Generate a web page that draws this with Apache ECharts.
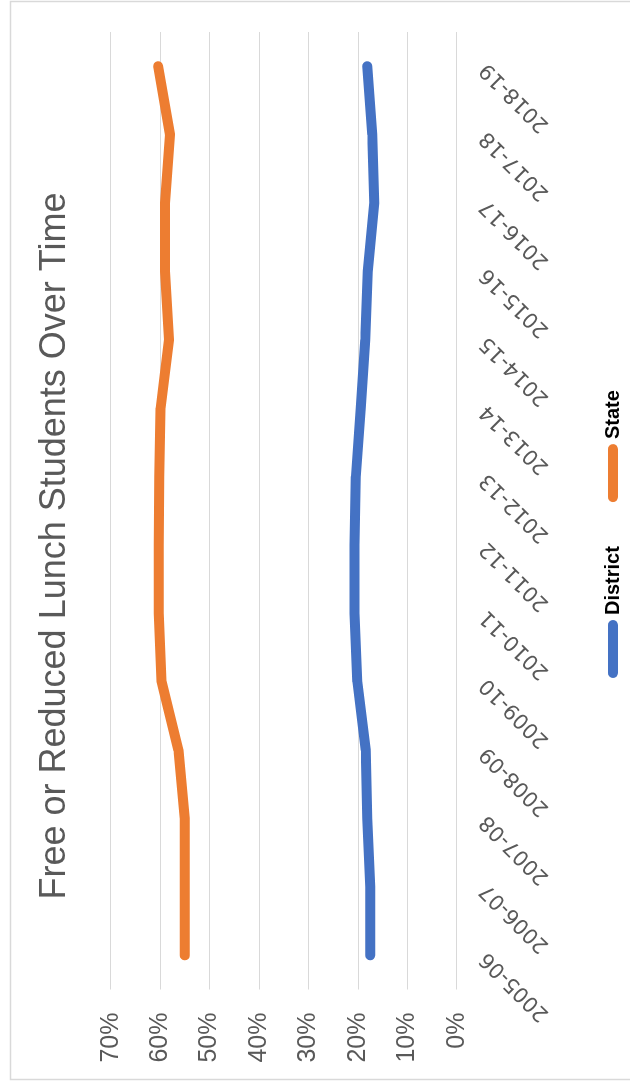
<!DOCTYPE html>
<html>
<head>
<meta charset="utf-8">
<title>Free or Reduced Lunch Students Over Time</title>
<script src="https://cdn.jsdelivr.net/npm/echarts@6/dist/echarts.min.js"></script>
<style>
  html, body { margin: 0; padding: 0; background: #ffffff; overflow: hidden; }
  body { width: 630px; height: 1083px; position: relative; }
  /* The chart is laid out landscape and turned a quarter turn counter-clockwise. */
  #chart {
    position: absolute; left: 0; top: 0;
    width: 1083px; height: 630px;
    transform-origin: 0 0;
    transform: translate(0, 1083px) rotate(-90deg);
  }
</style>
</head>
<body>
<div id="chart"></div>
<script>
// School years shown along the category axis
const years = ['2005-06', '2006-07', '2007-08', '2008-09', '2009-10', '2010-11', '2011-12',
               '2012-13', '2013-14', '2014-15', '2015-16', '2016-17', '2017-18', '2018-19'];

// Share of students eligible for free or reduced lunch (%)
const district = [17.5, 17.5, 18.1, 18.4, 20.1, 20.7, 20.7, 20.4, 19.4, 18.5, 18.0, 16.7, 17.1, 18.1];
const state    = [55.0, 55.0, 55.0, 56.3, 59.7, 60.3, 60.3, 60.2, 59.9, 58.2, 59.0, 59.0, 58.0, 60.4];

// Value axis range and step
const valueMin = 0;
const valueMax = 70;
const valueStep = 10;

const chart = echarts.init(document.getElementById('chart'), null, { renderer: 'canvas', width: 1083, height: 630 });

const grey = '#595959';
const gridGrey = '#d9d9d9';

chart.setOption({
  animation: false,
  backgroundColor: '#ffffff',
  graphic: [
    {
      type: 'rect',
      silent: true,
      shape: { x: 3.5, y: 10.5, width: 1078, height: 700 },
      style: { fill: 'none', stroke: gridGrey, lineWidth: 1.5 }
    },
    {
      type: 'text',
      x: 537, y: 55,
      style: {
        text: 'Free or Reduced Lunch Students Over Time',
        font: '36px "Liberation Sans", Arial, sans-serif',
        fill: grey,
        textAlign: 'center',
        textVerticalAlign: 'middle'
      }
    }
  ],
  legend: {
    data: ['District', 'State'],
    left: 400,
    top: 598,
    itemWidth: 58,
    itemHeight: 10,
    itemGap: 44,
    icon: 'path://M5,0 L53,0 A5,5 0 0 1 53,10 L5,10 A5,5 0 0 1 5,0 Z',
    textStyle: {
      color: '#000000',
      fontSize: 20,
      fontWeight: 'bold',
      fontFamily: '"Liberation Sans", Arial, sans-serif'
    }
  },
  grid: { left: 93.5, right: 32, top: 110.7, bottom: 173.3, containLabel: false },
  xAxis: {
    type: 'category',
    data: years,
    boundaryGap: true,
    axisLine: { show: false },
    axisTick: { show: false },
    axisLabel: {
      rotate: 45,
      margin: 27,
      interval: 0,
      color: grey,
      fontSize: 21,
      fontFamily: '"DejaVu Sans", sans-serif'
    },
    splitLine: { show: false }
  },
  yAxis: {
    type: 'value',
    min: valueMin,
    max: valueMax,
    interval: valueStep,
    axisLine: { show: false },
    axisTick: { show: false },
    axisLabel: {
      formatter: '{value}%',
      margin: 23,
      color: grey,
      fontSize: 25,
      fontFamily: '"Liberation Sans", Arial, sans-serif'
    },
    splitLine: { show: true, lineStyle: { color: gridGrey, width: 1.2 } }
  },
  series: [
    {
      name: 'District',
      type: 'line',
      data: district,
      symbol: 'none',
      color: '#4472c4',
      lineStyle: { width: 10, cap: 'round', join: 'round', color: '#4472c4' }
    },
    {
      name: 'State',
      type: 'line',
      data: state,
      symbol: 'none',
      color: '#ed7d31',
      lineStyle: { width: 10, cap: 'round', join: 'round', color: '#ed7d31' }
    }
  ]
});
</script>
</body>
</html>
